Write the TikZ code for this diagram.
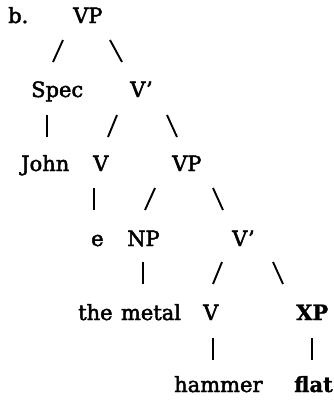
\documentclass[tikz,border=0pt]{standalone}
\usepackage{fontspec}
\setmainfont{DejaVu Serif}[RawFeature={embolden=2.2}]
\newfontfamily\heavybold{DejaVu Serif Bold}[RawFeature={embolden=1.2}]
\begin{document}
\begin{tikzpicture}[x=1pt,y=-1pt,
  lbl/.style={anchor=base west, inner sep=0pt, font=\fontsize{21}{25}\selectfont},
  bld/.style={lbl, font=\fontsize{21}{25}\selectfont\heavybold},
  br/.style={line width=1.9pt}]
\useasboundingbox (0,0) rectangle (334,402);
% labels
\node[lbl] (lab) at (8,23) {b.};
\node[lbl] (vp0) at (73,23) {VP};
\node[lbl] (spec) at (31,97) {Spec};
\node[lbl] (vb1) at (130,97) {V’};
\node[lbl] (john) at (21,171) {John};
\node[lbl] (v2) at (93,171) {V};
\node[lbl] (vp2) at (172,171) {VP};
\node[lbl] (e3) at (91,246) {e};
\node[lbl] (np3) at (127,246) {NP};
\node[lbl] (vb3) at (232,246) {V’};
\node[lbl] (met) at (78,320) {the\hspace{0.4em}metal};
\node[lbl] (v4) at (203,320) {V};
\node[bld] (xp4) at (296,320) {XP};
\node[lbl] (ham) at (174,392) {hammer};
\node[bld] (flat) at (294,392) {flat};
% branch ends
\coordinate (a1) at (63,40);  \coordinate (a2) at (53,62);
\coordinate (b1) at (110,40); \coordinate (b2) at (122,62);
\coordinate (c1) at (47,115); \coordinate (c2) at (47,137);
\coordinate (d1) at (117,115); \coordinate (d2) at (108,137);
\coordinate (f1) at (167,115); \coordinate (f2) at (177,137);
\coordinate (g1) at (94,188); \coordinate (g2) at (94,210);
\coordinate (h1) at (155,188); \coordinate (h2) at (145,210);
\coordinate (i1) at (213,188); \coordinate (i2) at (223,210);
\coordinate (j1) at (143,262); \coordinate (j2) at (143,284);
\coordinate (k1) at (222,262); \coordinate (k2) at (213,284);
\coordinate (l1) at (273,262); \coordinate (l2) at (283,284);
\coordinate (m1) at (213,338); \coordinate (m2) at (213,360);
\coordinate (n1) at (312,338); \coordinate (n2) at (312,360);
\foreach \s in {a,b,c,d,f,g,h,i,j,k,l,m,n}{\draw[br] (\s1) -- (\s2);}
\end{tikzpicture}
\end{document}
